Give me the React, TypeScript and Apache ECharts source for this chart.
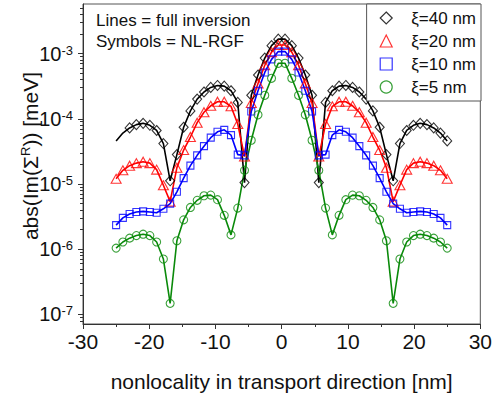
import React, { useEffect, useRef } from 'react';
import * as echarts from 'echarts';

// nonlocality positions [nm]
const positions = [
  -25.0, -23.98, -22.96, -21.94, -20.92, -19.9, -18.88, -17.86, -16.84, -15.82,
  -14.8, -13.78, -12.76, -11.73, -10.71, -9.69, -8.67, -7.65, -6.63, -5.61,
  -4.59, -3.57, -2.55, -1.53, -0.51,
  0.51, 1.53, 2.55, 3.57, 4.59, 5.61, 6.63, 7.65, 8.67, 9.69,
  10.71, 11.73, 12.76, 13.78, 14.8, 15.82, 16.84, 17.86, 18.88, 19.9,
  20.92, 21.94, 22.96, 23.98, 25.0,
];

// abs(Im(Sigma^R)) [meV]
const xi40 = [
  4.57e-5, 6.03e-5, 7.24e-5, 8.13e-5, 8.51e-5, 7.94e-5, 6.61e-5, 4.17e-5, 1.12e-5, 2.82e-5,
  7.41e-5, 1.32e-4, 2.0e-4, 2.57e-4, 3.02e-4, 3.24e-4, 3.16e-4, 2.69e-4, 1.78e-4, 1.05e-5,
  2.29e-4, 4.68e-4, 8.51e-4, 1.32e-3, 1.66e-3,
  1.66e-3, 1.32e-3, 8.51e-4, 4.68e-4, 2.29e-4,
  1.05e-5, 1.78e-4, 2.69e-4, 3.16e-4, 3.24e-4, 3.02e-4, 2.57e-4, 2.0e-4, 1.32e-4, 7.41e-5,
  2.82e-5, 1.12e-5, 4.17e-5, 6.61e-5, 7.94e-5, 8.51e-5, 8.13e-5, 7.24e-5, 6.03e-5, 4.57e-5,
];
const xi20 = [
  1.2e-5, 1.62e-5, 1.91e-5, 2.09e-5, 2.19e-5, 2.09e-5, 1.66e-5, 9.55e-6, 5.37e-6, 1.78e-5,
  3.31e-5, 5.25e-5, 8.71e-5, 1.26e-4, 1.58e-4, 1.82e-4, 1.82e-4, 1.55e-4, 8.32e-5, 2.63e-5,
  1.74e-4, 3.47e-4, 6.61e-4, 1.05e-3, 1.35e-3,
  1.35e-3, 1.05e-3, 6.61e-4, 3.47e-4, 1.74e-4,
  2.63e-5, 8.32e-5, 1.55e-4, 1.82e-4, 1.82e-4, 1.58e-4, 1.26e-4, 8.71e-5, 5.25e-5, 3.31e-5,
  1.78e-5, 5.37e-6, 9.55e-6, 1.66e-5, 2.09e-5, 2.19e-5, 2.09e-5, 1.91e-5, 1.62e-5, 1.2e-5,
];
const xi10 = [
  2.34e-6, 3.02e-6, 3.47e-6, 3.72e-6, 3.8e-6, 3.72e-6, 3.63e-6, 4.17e-6, 5.01e-6, 7.59e-6,
  1.23e-5, 1.91e-5, 2.75e-5, 3.8e-5, 5.13e-5, 6.31e-5, 6.76e-5, 5.62e-5, 2.82e-5, 2.75e-5,
  1.29e-4, 2.69e-4, 5.13e-4, 8.13e-4, 1.07e-3,
  1.07e-3, 8.13e-4, 5.13e-4, 2.69e-4, 1.29e-4,
  2.75e-5, 2.82e-5, 5.62e-5, 6.76e-5, 6.31e-5, 5.13e-5, 3.8e-5, 2.75e-5, 1.91e-5, 1.23e-5,
  7.59e-6, 5.01e-6, 4.17e-6, 3.63e-6, 3.72e-6, 3.8e-6, 3.72e-6, 3.47e-6, 3.02e-6, 2.34e-6,
];
const xi5 = [
  1.04e-6, 1.29e-6, 1.48e-6, 1.62e-6, 1.7e-6, 1.62e-6, 1.29e-6, 7.08e-7, 1.48e-7, 1.35e-6,
  2.82e-6, 4.37e-6, 5.62e-6, 6.61e-6, 6.76e-6, 5.75e-6, 3.31e-6, 1.66e-6, 4.27e-6, 1.62e-5,
  4.68e-5, 1.15e-4, 2.29e-4, 4.17e-4, 7.08e-4,
  7.08e-4, 4.17e-4, 2.29e-4, 1.15e-4, 4.68e-5,
  1.62e-5, 4.27e-6, 1.66e-6, 3.31e-6, 5.75e-6, 6.76e-6, 6.61e-6, 5.62e-6, 4.37e-6, 2.82e-6,
  1.35e-6, 1.48e-7, 7.08e-7, 1.29e-6, 1.62e-6, 1.7e-6, 1.62e-6, 1.48e-6, 1.29e-6, 1.04e-6,
];

const seriesNames = ['ξ=40 nm', 'ξ=20 nm', 'ξ=10 nm', 'ξ=5 nm'];
// leftmost symbols absent for the ξ=40 nm NL-RGF data
const symbolSkipLeft = [2, 0, 0, 0];

const xTicks = [-30, -20, -10, 0, 10, 20, 30];
const yDecades = [-7, -6, -5, -4, -3];
const yMinExp = -7.146;
const yMaxExp = -2.241;

const FONT = "Arial, 'Liberation Sans', sans-serif";

export default function App() {
  const ref = useRef<HTMLDivElement>(null);

  useEffect(() => {
    if (!ref.current) return;
    const chart = echarts.init(ref.current, null, { renderer: 'svg' });

    const values = [xi40, xi20, xi10, xi5];
    const colors = ['#000000', '#ff0000', '#0000ff', '#0a8a0a'];
    const symbols = ['diamond', 'triangle', 'rect', 'circle'];
    const symbolSizes = [[9, 10], [10, 9], [7, 7], [8, 8]];

    const majorVals = yDecades.map((e) => Math.pow(10, e));
    const minorVals: number[] = [];
    for (let e = -8; e <= -3; e++) {
      for (let k = 2; k <= 9; k++) {
        const v = k * Math.pow(10, e);
        if (Math.log10(v) > yMinExp && Math.log10(v) < yMaxExp) minorVals.push(v);
      }
    }

    const series: any[] = [];
    values.forEach((vals, si) => {
      series.push({
        name: 'line' + si,
        type: 'line',
        data: positions.map((x, i) => [x, vals[i]]),
        showSymbol: false,
        lineStyle: { color: colors[si], width: 1.6 },
        itemStyle: { color: colors[si] },
        z: 2,
        silent: true,
      });
    });
    values.forEach((vals, si) => {
      series.push({
        name: seriesNames[si],
        type: 'scatter',
        data: positions.map((x, i) => (i < symbolSkipLeft[si] ? [x, null] : [x, vals[i]])),
        symbol: symbols[si],
        symbolSize: symbolSizes[si],
        itemStyle: { color: 'rgba(255,255,255,0)', borderColor: colors[si], borderWidth: 1.1 },
        z: 3,
        silent: true,
      });
    });

    const option: any = {
      animation: false,
      textStyle: { fontFamily: FONT },
      grid: { left: 83, right: 14, top: 4, bottom: 75, show: true, borderColor: '#555', borderWidth: 1 },
      legend: {
        data: seriesNames.map((n, i) => ({
          name: n,
          icon: symbols[i],
          itemStyle: { color: 'rgba(255,255,255,0)', borderColor: colors[i], borderWidth: 1.2 },
        })),
        orient: 'vertical',
        right: 14,
        top: 4,
        itemWidth: 12,
        itemHeight: 12,
        itemGap: 5,
        symbolKeepAspect: true,
        padding: [5, 5, 5, 13],
        borderColor: '#555',
        borderWidth: 1,
        borderRadius: 0,
        backgroundColor: '#fff',
        textStyle: { fontSize: 17, color: '#111', fontFamily: FONT, lineHeight: 18, padding: [0, 0, 0, 14] },
      },
      xAxis: {
        type: 'value',
        min: xTicks[0],
        max: xTicks[xTicks.length - 1],
        interval: 10,
        name: 'nonlocality in transport direction [nm]',
        nameLocation: 'middle',
        nameGap: 47,
        nameTextStyle: { fontSize: 21, color: '#111', fontFamily: FONT },
        axisLine: { onZero: false, lineStyle: { color: '#333', width: 1 } },
        axisTick: { show: true, inside: false, length: 5, lineStyle: { color: '#333' } },
        minorTick: { show: true, splitNumber: 2, length: 3, lineStyle: { color: '#333' } },
        axisLabel: { fontSize: 21, color: '#111', margin: 7, fontFamily: FONT },
        splitLine: { show: false },
      },
      yAxis: [
        {
          type: 'log',
          logBase: 10,
          position: 'left',
          min: Math.pow(10, yMinExp),
          max: Math.pow(10, yMaxExp),
          axisLine: { show: true, onZero: false, lineStyle: { color: '#333', width: 1 } },
          axisTick: { show: true, inside: false, length: 5, customValues: majorVals, lineStyle: { color: '#333' } },
          splitLine: { show: false },
          axisLabel: {
            customValues: majorVals,
            margin: 10,
            formatter: (v: number) => {
              const e = Math.log10(v);
              if (Math.abs(e - Math.round(e)) > 1e-6) return '';
              return '{b|10}{s|' + Math.round(e) + '}';
            },
            rich: {
              b: { fontSize: 20, lineHeight: 20, verticalAlign: 'bottom', color: '#111', fontFamily: FONT },
              s: { fontSize: 13, lineHeight: 12, padding: [0, 0, 12, 0], verticalAlign: 'top', color: '#111', fontFamily: FONT },
            },
          },
        },
        {
          type: 'log',
          logBase: 10,
          position: 'left',
          min: Math.pow(10, yMinExp),
          max: Math.pow(10, yMaxExp),
          axisLine: { show: false, onZero: false },
          axisTick: { show: true, inside: false, length: 3, customValues: minorVals, lineStyle: { color: '#333' } },
          axisLabel: { show: false },
          splitLine: { show: false },
        },
      ],
      graphic: [
        {
          type: 'text',
          x: 96,
          y: 20,
          style: { text: 'Lines = full inversion', fontSize: 17, fill: '#111', fontFamily: FONT, verticalAlign: 'middle' },
        },
        {
          type: 'text',
          x: 96,
          y: 41,
          style: { text: 'Symbols = NL-RGF', fontSize: 17, fill: '#111', fontFamily: FONT, verticalAlign: 'middle' },
        },
        {
          type: 'text',
          x: 30,
          y: 156,
          rotation: Math.PI / 2,
          style: {
            text: '{a|abs(Im(Σ}{s|R}{a|)) [meV]}',
            align: 'center',
            verticalAlign: 'middle',
            rich: {
              a: { fontSize: 21, lineHeight: 22, verticalAlign: 'bottom', fill: '#111', fontFamily: FONT },
              s: { fontSize: 13, lineHeight: 12, padding: [0, 0, 12, 0], verticalAlign: 'top', fill: '#111', fontFamily: FONT },
            },
          },
        },
      ],
      series,
    };

    chart.setOption(option);
    return () => chart.dispose();
  }, []);

  return <div ref={ref} style={{ position: 'absolute', left: 0, top: 0, width: 495, height: 399 }} />;
}
